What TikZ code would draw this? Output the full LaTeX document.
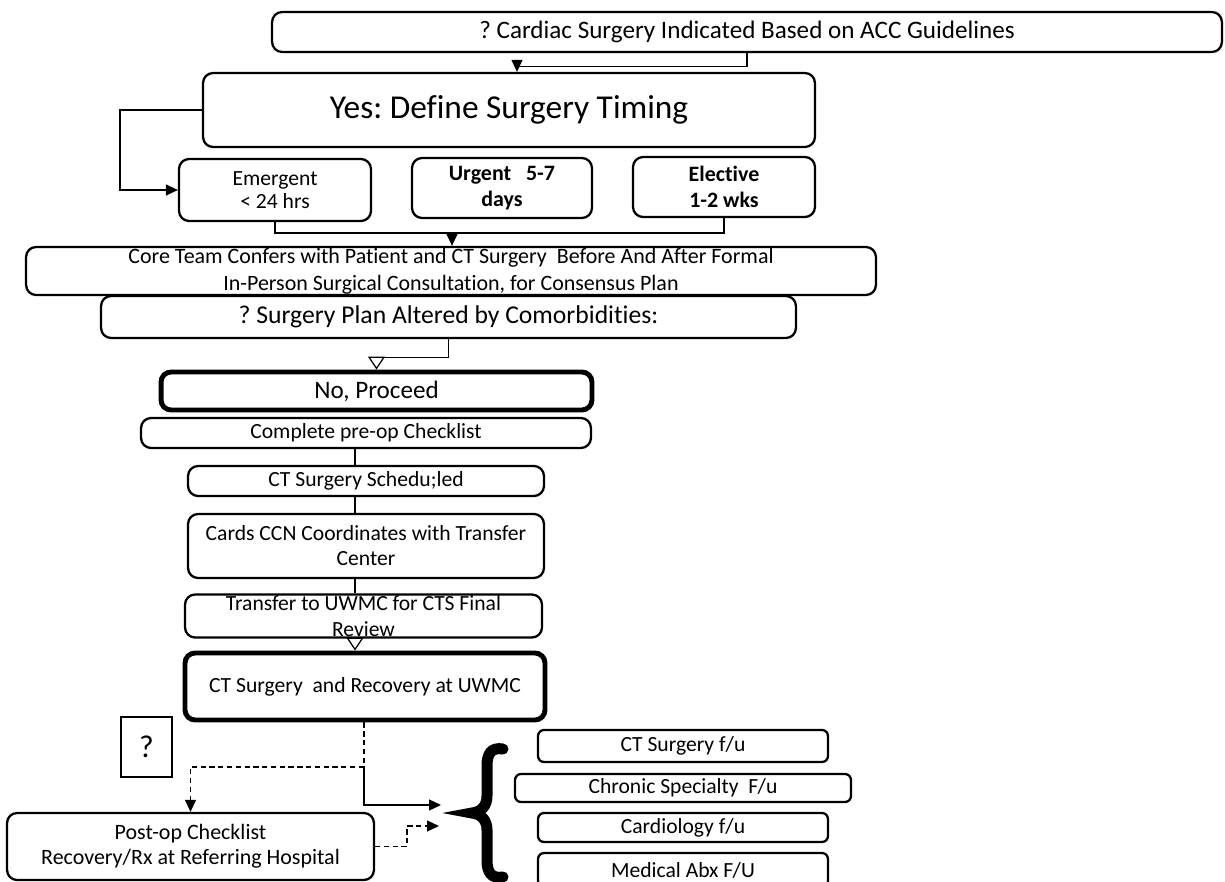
\documentclass[tikz,border=0pt]{standalone}
\usepackage{fontspec}
\setmainfont{Carlito}[Ligatures=NoCommon]
\usetikzlibrary{arrows.meta}
\frenchspacing

\tikzset{
	box/.style={draw,rounded corners=0.2cm,line width=1.3pt,inner sep=0pt,align=center,font=\fontsize{12.3}{14.2}\selectfont},
	heavybox/.style={box,line width=2.8pt},
	fubox/.style={box,rounded corners=0.12cm,minimum width=5.8cm},
	link/.style={line width=0.7pt},
	openhead/.style={-{Triangle[open,length=0.26cm,width=0.34cm]}},
	dotlink/.style={link,dash pattern=on 3pt off 2pt}
}

\begin{document}
\begin{tikzpicture}[x=0.02cm,y=-0.02cm,>/.tip={Triangle[length=0.24cm,width=0.22cm]}]
	\useasboundingbox (0,0) rectangle (1225,882);
	\draw (747,32) node (cardiac) [box,minimum width=19cm,minimum height=0.8cm,font=\fontsize{14.3}{16}\selectfont] {? Cardiac Surgery Indicated Based on ACC Guidelines};
	\draw (509,110) node (yes) [box,minimum width=12.24cm,minimum height=1.48cm,font=\fontsize{19}{22}\selectfont] {Yes: Define Surgery Timing};
	\draw (275,190) node (emergent) [box,minimum width=3.84cm,minimum height=1.24cm,font=\fontsize{12.3}{13}\selectfont] {Emergent\\< 24 hrs};
	\draw (502,188) node (urgent) [box,minimum width=3.6cm,minimum height=1.2cm,font=\fontsize{12.5}{15}\selectfont\bfseries] {Urgent~~~5-7\\days};
	\draw (724,187) node (elective) [box,minimum width=3.64cm,minimum height=1.2cm,font=\fontsize{12.5}{15}\selectfont\bfseries] {Elective\\1-2 wks};
	\draw (451,271) node (core) [box,minimum width=17cm,minimum height=0.96cm,font=\fontsize{12.5}{15.4}\selectfont] {Core Team Confers with Patient and CT Surgery~ Before And After Formal\\In-Person Surgical Consultation, for Consensus Plan};
	\draw (448.5,317) node (plan) [box,minimum width=13.9cm,minimum height=0.84cm,font=\fontsize{14.6}{16}\selectfont] {? Surgery Plan Altered by Comorbidities:};
	\draw (376.5,391) node (proceed) [heavybox,minimum width=8.62cm,minimum height=0.76cm,font=\fontsize{14.3}{16}\selectfont] {No, Proceed};
	\draw (366,433) node (preop) [box,minimum width=9cm,minimum height=0.6cm] {Complete pre-op Checklist};
	\draw (366,481) node (sched) [box,minimum width=7.12cm,minimum height=0.6cm] {CT Surgery Schedu;led};
	\draw (366,546) node (cards) [box,minimum width=7.12cm,minimum height=1.28cm] {Cards CCN Coordinates with Transfer\\Center};
	\draw (363.5,616) node (transfer) [box,minimum width=7.14cm,minimum height=0.86cm,font=\fontsize{12.3}{14.8}\selectfont] {Transfer to UWMC for CTS Final\\Review};
	\draw (365,686.5) node (ctrec) [heavybox,minimum width=7.2cm,minimum height=1.34cm] {CT Surgery~ and Recovery at UWMC};
	\draw (146.5,747) node (quest) [box,rounded corners=0pt,line width=1.1pt,minimum width=1.02cm,minimum height=1.2cm,font=\fontsize{18}{20}\selectfont] {?};
	\draw (190.5,846.5) node (postop) [box,minimum width=7.34cm,minimum height=1.34cm,font=\fontsize{12.5}{14.2}\selectfont] {Post-op Checklist\\Recovery/Rx at Referring Hospital};
	\draw (683,746) node (ctfu) [fubox,minimum height=0.64cm] {CT Surgery f/u};
	\draw (683,788) node (chronic) [fubox,minimum width=6.72cm,minimum height=0.56cm] {Chronic Specialty~ F/u};
	\draw (683,827.5) node (cardio) [fubox,minimum height=0.58cm] {Cardiology f/u};
	\draw (683,870) node (medabx) [fubox,minimum height=0.68cm] {Medical Abx F/U};

	\draw[link,->] (cardiac.south) -- ++(0,13) -| ([xshift=0.16cm]yes.north);
	\draw[link,->] (yes.west) -- ++(-82,0) |- (emergent.west);
	\coordinate (merge) at (452,233);
	\draw[link] (emergent.south) |- (merge);
	\draw[link] (elective.south) |- (merge);
	\draw[link,->] (merge) -- (core.north -| merge);
	\draw[link,openhead] (plan.south) -- ++(0,18) -| (proceed.north);
	\coordinate (spine) at (355,0);
	\draw[link] (preop.south -| spine) -- (sched.north -| spine);
	\draw[link] (sched.south -| spine) -- (cards.north -| spine);
	\draw[link] (cards.south -| spine) -- (transfer.north -| spine);
	\draw[link,openhead] (transfer.south -| spine) -- (ctrec.north -| spine);
	\coordinate (split) at (364,767);
	\coordinate (fuA) at (441,805);
	\coordinate (fuB) at (439,826);
	\draw[dotlink] (ctrec.south -| split) -- (split);
	\draw[dotlink,->] (split) -| (postop.north);
	\draw[link,->] (split) |- (fuA);
	\draw[dotlink,->] (postop.east) -- ++(32,0) |- (fuB);
	\draw[line width=0.22cm,line cap=round] (503,749) .. controls (491,747) and (487,754) .. (487,766) -- (487,796) .. controls (487,806) and (481,812) .. (472,813) .. controls (481,814) and (487,820) .. (487,830) -- (487,860) .. controls (487,872) and (491,879) .. (503,877);
\end{tikzpicture}
\end{document}
